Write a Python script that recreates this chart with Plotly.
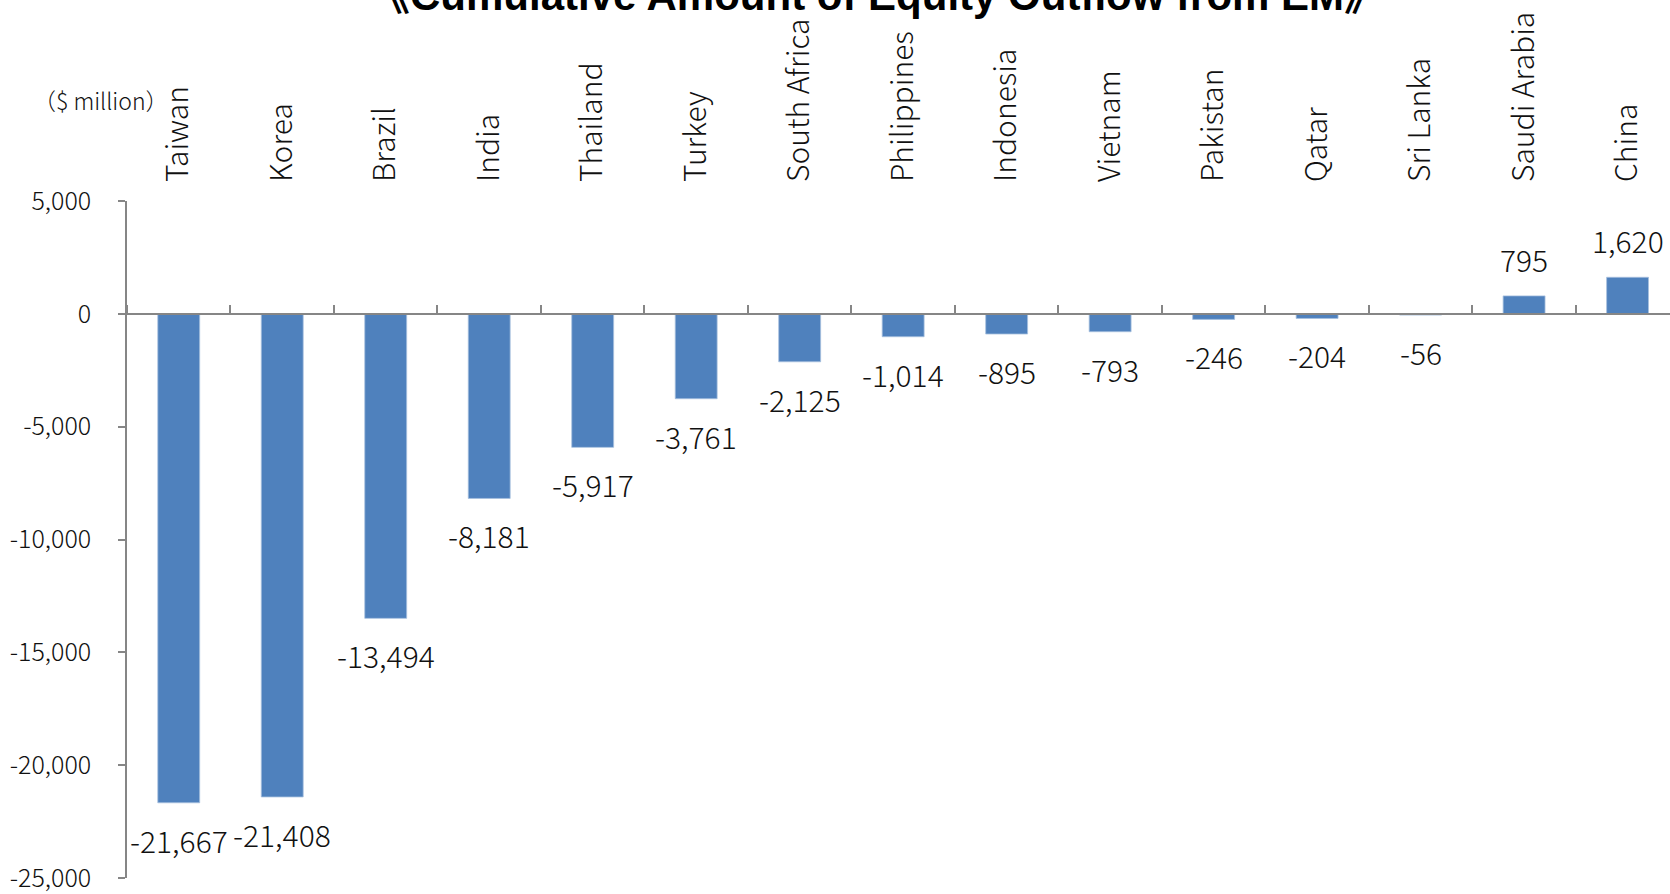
import plotly.graph_objects as go

# Cumulative equity flows by market ($ million)
countries = ["Taiwan", "Korea", "Brazil", "India", "Thailand", "Turkey", "South Africa",
             "Philippines", "Indonesia", "Vietnam", "Pakistan", "Qatar", "Sri Lanka",
             "Saudi Arabia", "China"]
outflow = [-21667, -21408, -13494, -8181, -5917, -3761, -2125,
           -1014, -895, -793, -246, -204, -56, 795, 1620]

y_ticks = [5000, 0, -5000, -10000, -15000, -20000, -25000]
y_tick_text = ["5,000", "0", "-5,000", "-10,000", "-15,000", "-20,000", "-25,000"]

title_text = "《Cumulative Amount of Equity Outflow from EM》"
unit_text = "（$ million）"

BAR = "#4F81BD"
AXIS = "#868686"
TXT = "#111111"
FONT = "Noto Sans CJK JP"
LIGHT = 300

y_min, y_max = min(y_ticks), max(y_ticks)
n = len(countries)
x_range = [-0.5, n - 0.59]

fig = go.Figure()

fig.add_trace(go.Bar(
    x=countries, y=outflow, width=0.405,
    marker=dict(color=BAR, line=dict(color="#A7C0DE", width=0.8)),
    xaxis="x", yaxis="y", showlegend=False, hoverinfo="x+y",
))

# invisible copy that registers the categories on the label axis
fig.add_trace(go.Scatter(
    x=countries, y=outflow, mode="markers", marker=dict(opacity=0),
    xaxis="x2", yaxis="y", showlegend=False, hoverinfo="skip",
))

# value labels next to the bar ends
for c, v in zip(countries, outflow):
    neg = v < 0
    fig.add_annotation(
        x=c, y=v, xref="x", yref="y", text=f"{v:,}", showarrow=False,
        yanchor="top" if neg else "bottom", yshift=-13 if neg else 13,
        font=dict(family=FONT, size=30, color=TXT, weight=LIGHT),
    )

fig.add_annotation(
    xref="paper", yref="paper", x=0.5, y=1, xanchor="center", yanchor="bottom",
    xshift=-22, yshift=180, text=f"<b>{title_text}</b>", showarrow=False,
    font=dict(family="Liberation Sans, Noto Sans CJK JP", size=42, color="#000000"),
)

fig.add_annotation(
    xref="paper", yref="paper", x=0, y=1, xanchor="left", yanchor="middle",
    xshift=-96, yshift=101, text=unit_text, showarrow=False,
    font=dict(family=FONT, size=23, color=TXT, weight=LIGHT),
)

zero_pos = (0 - y_min) / (y_max - y_min)

fig.update_layout(
    width=1670, height=894,
    margin=dict(l=127, r=0, t=201, b=12),
    paper_bgcolor="white", plot_bgcolor="white",
    font=dict(family=FONT, color=TXT),
    xaxis=dict(
        type="category", categoryorder="array", categoryarray=countries,
        range=x_range, anchor="free", position=zero_pos, side="top",
        showline=True, linecolor=AXIS, linewidth=1.5,
        ticks="outside", tickson="boundaries", ticklen=8, tickcolor=AXIS, tickwidth=1.5,
        showticklabels=False, showgrid=False, zeroline=False, fixedrange=True,
    ),
    xaxis2=dict(
        type="category", categoryorder="array", categoryarray=countries,
        overlaying="x", matches="x", anchor="y", side="top",
        showline=False, ticks="", showgrid=False, zeroline=False,
        tickangle=-90, ticklabelstandoff=18,
        tickfont=dict(family=FONT, size=30, color=TXT, weight=LIGHT),
    ),
    yaxis=dict(
        range=[y_min, y_max], tickvals=y_ticks, ticktext=y_tick_text,
        ticklabeloverflow="allow",
        showline=True, linecolor=AXIS, linewidth=1.5,
        ticks="outside", ticklen=7, tickcolor=AXIS, tickwidth=1.5,
        ticklabelstandoff=22, showgrid=False, zeroline=False,
        tickfont=dict(family=FONT, size=25, color=TXT, weight=LIGHT),
    ),
)

fig.write_html("out.html")
